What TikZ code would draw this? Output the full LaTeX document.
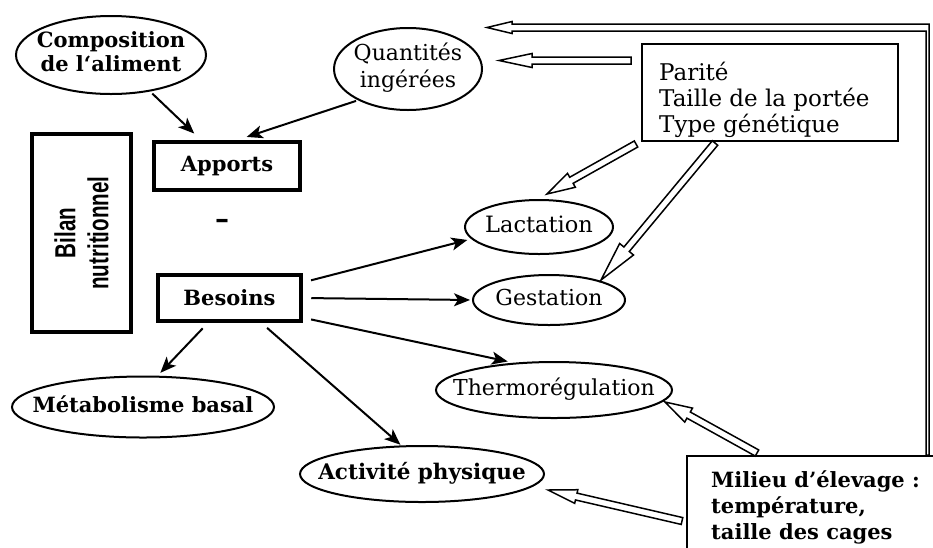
\documentclass[tikz,border=0pt]{standalone}
\usepackage{fontspec}
\setmainfont{DejaVu Serif}
\newfontfamily\bilanfont{Liberation Sans}
\usetikzlibrary{shapes.geometric,arrows.meta,calc}
\newcommand\zb[1]{\makebox[0pt]{\begin{tabular}{@{}c@{}}#1\end{tabular}}}
\tikzset{
  ell/.style={ellipse, draw, line width=2pt, inner sep=0pt, font=\fontsize{22.5}{25}\selectfont},
  thickbox/.style={rectangle, draw, line width=4.5pt, inner sep=0pt, font=\bfseries\fontsize{21}{25}\selectfont},
  thinbox/.style={rectangle, draw, line width=1.8pt, inner sep=0pt},
  txt/.style={inner sep=0pt, align=left, font=\fontsize{23}{26}\selectfont},
  arr/.style={line width=2pt, -{Stealth[length=16pt,width=13pt,inset=4pt]}},
  hollow/.style={draw, line width=1.5pt, fill=white, line join=miter},
}
\newcommand\hollowarrow[4]{%
  \coordinate (hb) at ($(#2)!#3!(#1)$);
  \path[hollow] ($(#1)!3.5pt!90:(#2)$) -- ($(hb)!3.5pt!90:(#2)$) -- ($(hb)!#4!90:(#2)$) -- (#2) -- ($(hb)!#4!-90:(#2)$) -- ($(hb)!3.5pt!-90:(#2)$) -- ($(#1)!3.5pt!-90:(#2)$) -- cycle;
}
\begin{document}
\begin{tikzpicture}[x=1pt,y=-1pt]
\useasboundingbox (0,0) rectangle (933,547);
\clip (0,0) rectangle (933,547);

% ellipses
\node[ell, font=\bfseries\fontsize{21}{24}\selectfont, minimum width=190pt, minimum height=78pt] (comp) at (111,55) {\zb{Composition\\de l`aliment}};
\node[ell, font=\fontsize{22}{27}\selectfont, minimum width=148pt, minimum height=82pt] (quant) at (408,69) {\zb{Quantités\\ingérées}};
\node[ell, minimum width=148pt, minimum height=54pt] (lact) at (539,227) {\zb{Lactation}};
\node[ell, font=\fontsize{22}{25}\selectfont, minimum width=152pt, minimum height=50pt] (gest) at (549,300) {\zb{Gestation}};
\node[ell, font=\fontsize{22}{25}\selectfont, minimum width=236pt, minimum height=56pt] (thermo) at (554,390) {\zb{Thermorégulation}};
\node[ell, font=\bfseries\fontsize{21}{25}\selectfont, minimum width=262pt, minimum height=61pt] (metab) at (143,407) {\zb{Métabolisme basal}};
\node[ell, font=\bfseries\fontsize{21.5}{25}\selectfont, minimum width=244pt, minimum height=56pt] (act) at (422,474) {\zb{Activité physique}};

% boxes
\node[thickbox, minimum width=146pt, minimum height=48pt] (apports) at (227,166) {Apports};
\node[thickbox, minimum width=143pt, minimum height=46pt] (besoins) at (229.5,298) {Besoins};
\node[font=\bfseries\fontsize{28}{30}\selectfont, inner sep=0pt] (minus) at (222,224) {–};
\node[thickbox, rotate=90, minimum width=198pt, minimum height=99pt, align=center,
      font=\bilanfont\bfseries\fontsize{29}{33}\selectfont] (bilan) at (81.5,233)
      {\scalebox{0.71}[1]{Bilan}\\\scalebox{0.71}[1]{nutritionnel}};

\node[thinbox, anchor=north west, minimum width=256pt, minimum height=97pt] (paritebox) at (641,43) {};
\node[txt, anchor=north west] (parite) at (659,62) {Parité\\Taille de la portée\\Type génétique};

\node[thinbox, anchor=north west, minimum width=300pt, minimum height=150pt] (milieubox) at (686,455) {};
\node[txt, font=\bfseries\fontsize{21}{26}\selectfont, anchor=north west] (milieu) at (711,470) {Milieu d'élevage :\\température,\\taille des cages};

% solid arrows
\draw[arr, shorten <=3pt, shorten >=9pt] (comp.-43) -- (apports.135);
\draw[arr, shorten <=2pt, shorten >=9pt] (quant.212) -- (apports.67);
\draw[arr, shorten <=8pt, shorten >=4pt] (besoins.12) -- (lact.190);
\draw[arr, shorten <=8pt, shorten >=2pt] (besoins.east) -- (gest.west);
\draw[arr, shorten <=8pt, shorten >=6pt] (besoins.-15) -- (thermo.146);
\draw[arr, shorten <=7pt, shorten >=4pt] (besoins.229) -- (metab.65);
\draw[arr, shorten <=7pt, shorten >=1pt] (besoins.-38) -- (act.126);

% hollow arrows
\coordinate (qa1) at (631,60.5);  \coordinate (qa2) at (499,60.5);
\coordinate (la1) at (636,144);   \coordinate (la2) at (547,194);
\coordinate (ga1) at (715,143);   \coordinate (ga2) at (601,280);
\coordinate (ta1) at (757,453);   \coordinate (ta2) at (665,402);
\coordinate (aa1) at (682,521);   \coordinate (aa2) at (548,490);
\hollowarrow{qa1}{qa2}{33pt}{7pt}
\hollowarrow{la1}{la2}{28pt}{8pt}
\hollowarrow{ga1}{ga2}{40pt}{9pt}
\hollowarrow{ta1}{ta2}{27pt}{8pt}
\hollowarrow{aa1}{aa2}{29pt}{7pt}

% feedback arrow
\coordinate (fbtip) at (487,27.5);
\path[hollow] (fbtip) -- (512,21.5) -- (512,24) -- (929,24) -- (929,455) -- (926,455) -- (926,31) -- (512,31) -- (512,33.5) -- cycle;
\end{tikzpicture}
\end{document}
